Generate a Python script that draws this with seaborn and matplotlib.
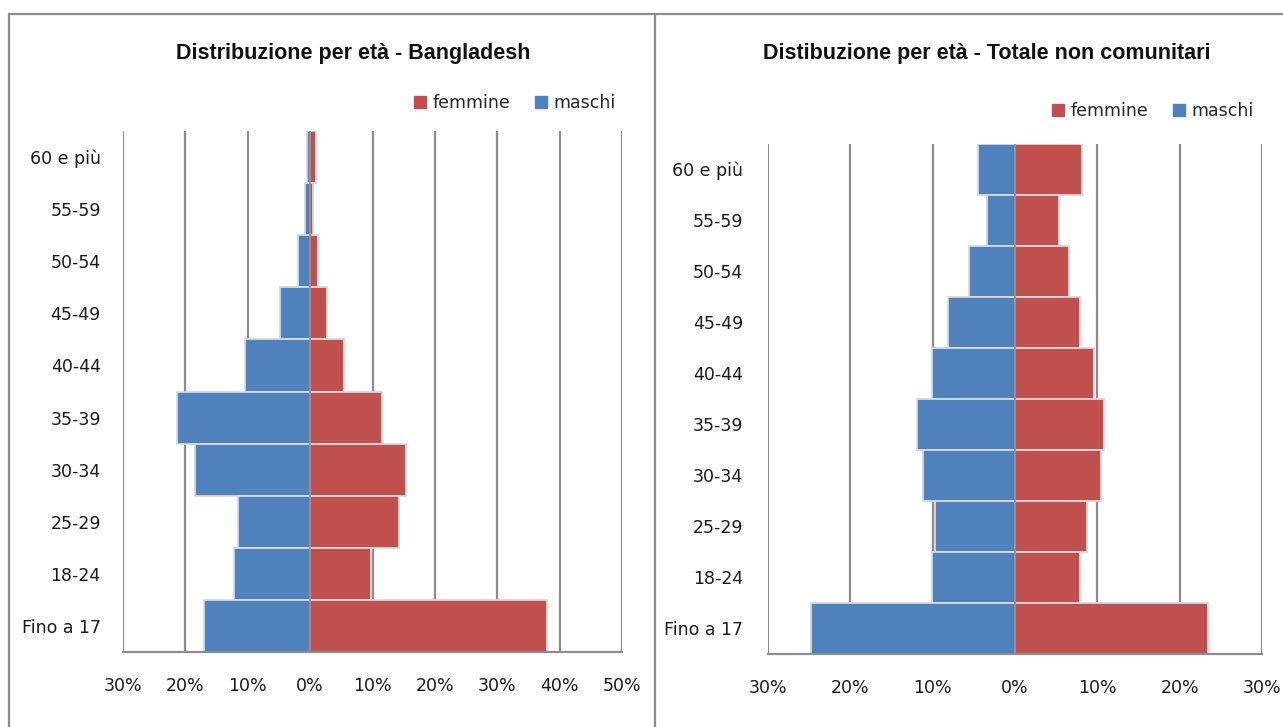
import matplotlib
matplotlib.use("Agg")
import matplotlib.pyplot as plt
from matplotlib import font_manager
from matplotlib.lines import Line2D
from matplotlib.patches import Patch
import seaborn as sns
import pandas as pd

# ---- data (percent) ----
categories = ["60 e più", "55-59", "50-54", "45-49", "40-44",
              "35-39", "30-34", "25-29", "18-24", "Fino a 17"]
bd_maschi = [0.5, 0.9, 1.9, 4.8, 10.4, 21.3, 18.5, 11.6, 12.2, 17.0]
bd_femmine = [1.0, 0.4, 1.3, 2.7, 5.5, 11.5, 15.3, 14.2, 9.8, 37.9]
nc_maschi = [4.5, 3.4, 5.6, 8.1, 10.1, 11.9, 11.2, 9.7, 10.1, 24.8]
nc_femmine = [8.1, 5.3, 6.6, 7.9, 9.6, 10.8, 10.5, 8.7, 7.9, 23.5]
series_labels = ["femmine", "maschi"]
title_left = "Distribuzione per età - Bangladesh"
title_right = "Distibuzione per età - Totale non comunitari"
ticks_left = [-30, -20, -10, 0, 10, 20, 30, 40, 50]
ticks_right = [-30, -20, -10, 0, 10, 20, 30]

RED = "#C0504D"
BLUE = "#4F81BD"
GRID = "#8C8C8C"
EDGE = "#D9D9D9"

sns.set_theme(style="white")
avail = {f.name for f in font_manager.fontManager.ttflist}
title_font = "Liberation Sans Narrow" if "Liberation Sans Narrow" in avail else "Liberation Sans"
plt.rcParams["font.family"] = ["DejaVu Sans"]

W, H = 1283, 727
fig = plt.figure(figsize=(W / 100, H / 100), dpi=100)


def rect(l, t, r, b):
    return [l / W, 1 - b / H, (r - l) / W, (b - t) / H]


def panel(ax, maschi, femmine, ticks, pad):
    df = pd.DataFrame({"cat": categories,
                       "maschi": [-v for v in maschi],
                       "femmine": femmine})
    for t in ticks:
        ax.axvline(t, color=GRID, lw=1.6, zorder=0)
    sns.barplot(data=df, x="maschi", y="cat", orient="h", color=BLUE,
                width=1.0, edgecolor=EDGE, linewidth=1.3, saturation=1,
                ax=ax, zorder=2)
    sns.barplot(data=df, x="femmine", y="cat", orient="h", color=RED,
                width=1.0, edgecolor=EDGE, linewidth=1.3, saturation=1,
                ax=ax, zorder=2)
    ax.axvline(0, color="#8C8C8C", lw=1.3, zorder=3)
    ax.set_xlim(ticks[0], ticks[-1])
    ax.set_ylim(len(categories) - 0.5, -0.5)
    ax.set_xticks(ticks)
    ax.set_xticklabels([f"{abs(t)}%" for t in ticks])
    ax.set_xlabel("")
    ax.set_ylabel("")
    for s in ["top", "left", "right"]:
        ax.spines[s].set_visible(False)
    ax.spines["bottom"].set_color(GRID)
    ax.spines["bottom"].set_linewidth(1.6)
    ax.tick_params(axis="x", length=0, pad=18, labelsize=12.5, labelcolor="#1a1a1a")
    ax.tick_params(axis="y", length=0, pad=pad, labelsize=12.5, labelcolor="#1a1a1a")
    ax.grid(False)


ax1 = fig.add_axes(rect(123, 131, 622, 652))
panel(ax1, bd_maschi, bd_femmine, ticks_left, 16)
ax2 = fig.add_axes(rect(768, 143.5, 1262, 654))
panel(ax2, nc_maschi, nc_femmine, ticks_right, 18)

# frames
for (x0, y0, x1, y1) in [(9, 14, 9, H), (9, 14, W, 14), (655, 14, 655, H)]:
    fig.add_artist(Line2D([x0 / W, x1 / W], [1 - y0 / H, 1 - y1 / H],
                          color="#8C8C8C", lw=1.6))

# titles
fig.text(353 / W, 1 - 54 / H, title_left, ha="center", va="center",
         fontsize=15.5, fontweight="bold", family=[title_font, "DejaVu Sans"],
         color="#111111")
fig.text(987 / W, 1 - 54 / H, title_right, ha="center", va="center",
         fontsize=15.5, fontweight="bold", family=[title_font, "DejaVu Sans"],
         color="#111111")

# legends
handles = [Patch(facecolor=RED, edgecolor=RED), Patch(facecolor=BLUE, edgecolor=BLUE)]
for (xr, yc) in [(616, 103), (1254, 111)]:
    fig.legend(handles, series_labels, loc="center right",
               bbox_to_anchor=(xr / W, 1 - yc / H), ncol=2, frameon=False,
               fontsize=12.5, handlelength=0.7, handleheight=0.7,
               handletextpad=0.4, columnspacing=1.4, borderaxespad=0,
               borderpad=0)

fig.savefig("out.png", dpi=100, facecolor="white")
